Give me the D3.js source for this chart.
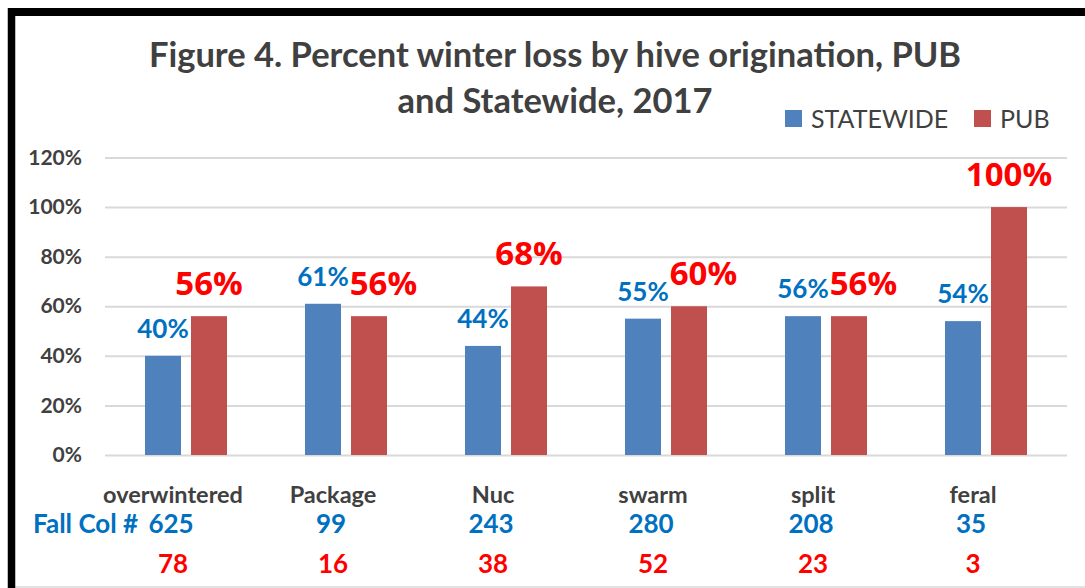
<!DOCTYPE html>
<html>
<head>
<meta charset="utf-8">
<script src="https://cdn.jsdelivr.net/npm/d3@7"></script>
<style>
  html, body { margin: 0; padding: 0; background: #fff; }
  svg { display: block; }
</style>
</head>
<body>
<svg id="chart" width="1085" height="588"></svg>
<script>
// ---- data ----
const categories = ["overwintered", "Package", "Nuc", "swarm", "split", "feral"];
const seriesNames = ["STATEWIDE", "PUB"];
const statewide = [40, 61, 44, 55, 56, 54];
const pub = [56, 56, 68, 60, 56, 100];
const fallColStatewide = [625, 99, 243, 280, 208, 35];
const fallColPub = [78, 16, 38, 52, 23, 3];
const yTicks = [0, 20, 40, 60, 80, 100, 120];
const titleLines = ["Figure 4. Percent winter loss by hive origination, PUB", "and Statewide, 2017"];
const fallColPrefix = "Fall Col #";

// ---- styles ----
const colors = { STATEWIDE: "#4F81BD", PUB: "#C0504D" };
const labelColors = { STATEWIDE: "#0070C0", PUB: "#FF0000" };
const textGrey = "#404040";
const gridGrey = "#d9d9d9";
const calibriLike = "Lato, 'Open Sans', sans-serif";

const svg = d3.select("#chart");

// frame
svg.append("rect").attr("x", 0).attr("y", 0).attr("width", 1085).attr("height", 588).attr("fill", "#fff");
svg.append("line").attr("x1", 15).attr("x2", 1085).attr("y1", 587).attr("y2", 587)
  .attr("stroke", gridGrey).attr("stroke-width", 1.5);
svg.append("line").attr("x1", 11.5).attr("x2", 11.5).attr("y1", 8).attr("y2", 588)
  .attr("stroke", "#000").attr("stroke-width", 7.5);
svg.append("line").attr("x1", 8).attr("x2", 1085).attr("y1", 12).attr("y2", 12)
  .attr("stroke", "#000").attr("stroke-width", 8);

// scales
const plotLeft = 105, plotRight = 1067, plotTop = 157.5, plotBottom = 455;
const x = d3.scaleBand().domain(categories).range([106, 1066]);
const x1 = d3.scaleBand().domain(seriesNames).range([-41, 41]).paddingInner(10 / 46);
const y = d3.scaleLinear().domain([0, 120]).range([plotBottom, plotTop]);

// y axis with gridlines
const yAxis = d3.axisLeft(y).tickValues(yTicks).tickFormat(d => d + "%")
  .tickSize(-(plotRight - plotLeft)).tickPadding(23);
const gy = svg.append("g").attr("transform", `translate(${plotLeft},0)`).call(yAxis);
gy.select(".domain").remove();
gy.selectAll(".tick line").attr("stroke", gridGrey).attr("stroke-width", 2);
gy.selectAll(".tick text").attr("fill", textGrey).attr("font-family", calibriLike)
  .attr("font-weight", "bold").attr("font-size", 21);

// x axis (category labels)
const xAxis = d3.axisBottom(x).tickSize(0).tickPadding(31);
const gx = svg.append("g").attr("transform", `translate(0,${plotBottom})`).call(xAxis);
gx.select(".domain").remove();
gx.selectAll(".tick text").attr("fill", textGrey).attr("font-family", calibriLike)
  .attr("font-weight", "bold").attr("font-size", 23.5).attr("dx", -13);

// bars
const rows = categories.map((c, i) => ({ cat: c, STATEWIDE: statewide[i], PUB: pub[i] }));
const groups = svg.append("g").selectAll("g.grp").data(rows).join("g")
  .attr("class", "grp")
  .attr("transform", d => `translate(${x(d.cat) + x.bandwidth() / 2},0)`);

groups.selectAll("rect").data(d => seriesNames.map(s => ({ s, v: d[s] }))).join("rect")
  .attr("x", d => x1(d.s))
  .attr("width", x1.bandwidth())
  .attr("y", d => y(d.v))
  .attr("height", d => y(0) - y(d.v))
  .attr("fill", d => colors[d.s]);

// data labels
const labelStyle = {
  STATEWIDE: { font: calibriLike, size: 26, gap: 18 },
  PUB: { font: "'Open Sans', sans-serif", size: 33, gap: 21 }
};
groups.each(function(d) {
  const g = d3.select(this);
  const boxes = {};
  seriesNames.forEach(s => {
    const st = labelStyle[s];
    const t = g.append("text")
      .attr("x", x1(s) + x1.bandwidth() / 2)
      .attr("y", y(d[s]) - st.gap)
      .attr("text-anchor", "middle")
      .attr("font-family", st.font)
      .attr("font-weight", "bold")
      .attr("font-size", st.size)
      .attr("fill", labelColors[s])
      .text(d[s] + "%");
    boxes[s] = t;
  });
  // avoid overlap: shift the PUB label right of the STATEWIDE label
  const b1 = boxes.STATEWIDE.node().getBBox();
  const b2 = boxes.PUB.node().getBBox();
  const overlapX = b2.x < b1.x + b1.width && b2.x + b2.width > b1.x;
  const overlapY = b2.y + b2.height * 0.85 > b1.y + b1.height * 0.2 && b2.y < b1.y + b1.height;
  if (overlapX && overlapY) {
    const shift = b1.x + b1.width + 1 - b2.x;
    boxes.PUB.attr("x", +boxes.PUB.attr("x") + shift);
  }
});

// fall colony counts
const countFont = { family: calibriLike, size: 26 };
svg.append("text").attr("x", 33).attr("y", 533)
  .attr("font-family", countFont.family).attr("font-weight", "bold").attr("font-size", countFont.size)
  .attr("fill", labelColors.STATEWIDE).text(fallColPrefix);
svg.append("g").selectAll("text").data(fallColStatewide).join("text")
  .attr("x", (d, i) => x(categories[i]) + x.bandwidth() / 2 - 15)
  .attr("y", 533)
  .attr("text-anchor", "middle")
  .attr("font-family", countFont.family).attr("font-weight", "bold").attr("font-size", countFont.size)
  .attr("fill", labelColors.STATEWIDE)
  .text(d => d);
svg.append("g").selectAll("text").data(fallColPub).join("text")
  .attr("x", (d, i) => x(categories[i]) + x.bandwidth() / 2 - 13)
  .attr("y", 573)
  .attr("text-anchor", "middle")
  .attr("font-family", countFont.family).attr("font-weight", "bold").attr("font-size", countFont.size)
  .attr("fill", labelColors.PUB)
  .text(d => d);

// title
svg.append("g").selectAll("text").data(titleLines).join("text")
  .attr("x", 555)
  .attr("y", (d, i) => 67 + i * 46)
  .attr("text-anchor", "middle")
  .attr("font-family", calibriLike).attr("font-weight", "bold").attr("font-size", 34.5)
  .attr("fill", textGrey)
  .text(d => d);

// legend
const legend = svg.append("g");
const legendX = { STATEWIDE: 785, PUB: 974 };
seriesNames.forEach(s => {
  legend.append("rect").attr("x", legendX[s]).attr("y", 110).attr("width", 17).attr("height", 17)
    .attr("fill", colors[s]);
  legend.append("text").attr("x", legendX[s] + 26).attr("y", 128)
    .attr("font-family", calibriLike).attr("font-size", 25).attr("fill", textGrey)
    .text(s);
});
</script>
</body>
</html>
